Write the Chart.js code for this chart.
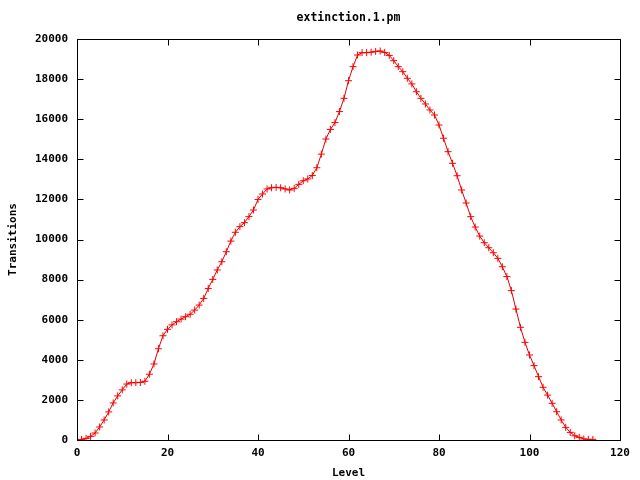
<!DOCTYPE html>
<html>
<head>
<meta charset="utf-8">
<script src="https://cdn.jsdelivr.net/npm/chart.js@4/dist/chart.umd.min.js"></script>
<style>
  html, body { margin: 0; padding: 0; background: #fff; }
  #wrap { width: 640px; height: 480px; }
</style>
</head>
<body>
<div id="wrap"><canvas id="plot" width="640" height="480"></canvas></div>
<script>
// levels on the x axis
var levels = [
  0, 1, 2, 3, 4, 5, 6, 7, 8, 9, 10, 11, 12, 13, 14, 15, 16, 17, 18, 19,
  20, 21, 22, 23, 24, 25, 26, 27, 28, 29, 30, 31, 32, 33, 34, 35, 36, 37, 38, 39,
  40, 41, 42, 43, 44, 45, 46, 47, 48, 49, 50, 51, 52, 53, 54, 55, 56, 57, 58, 59,
  60, 61, 62, 63, 64, 65, 66, 67, 68, 69, 70, 71, 72, 73, 74, 75, 76, 77, 78, 79,
  80, 81, 82, 83, 84, 85, 86, 87, 88, 89, 90, 91, 92, 93, 94, 95, 96, 97, 98, 99,
  100, 101, 102, 103, 104, 105, 106, 107, 108, 109, 110, 111, 112, 113, 114
];

// transitions per level
var transitions = [
  0, 30, 80, 180, 350, 650, 1000, 1400, 1850, 2200,
  2500, 2790, 2860, 2860, 2870, 2930, 3280, 3790, 4550, 5200,
  5520, 5740, 5900, 6030, 6150, 6270, 6480, 6730, 7060, 7560,
  8010, 8480, 8890, 9390, 9920, 10360, 10640, 10840, 11140, 11470,
  12000, 12270, 12520, 12580, 12600, 12580, 12520, 12470, 12550, 12750,
  12930, 13020, 13190, 13580, 14260, 15010, 15490, 15830, 16380, 17040,
  17920, 18620, 19200, 19320, 19320, 19340, 19380, 19400, 19330, 19180,
  18920, 18620, 18370, 18040, 17760, 17370, 17040, 16760, 16460, 16210,
  15710, 15050, 14380, 13800, 13180, 12470, 11820, 11140, 10620, 10170,
  9840, 9590, 9340, 9060, 8640, 8150, 7450, 6530, 5620, 4870,
  4240, 3710, 3160, 2630, 2240, 1830, 1410, 1000, 630, 380,
  210, 130, 50, 30, 30
];

var xTicks = [0, 20, 40, 60, 80, 100, 120];
var yTicks = [0, 2000, 4000, 6000, 8000, 10000, 12000, 14000, 16000, 18000, 20000];
var titleText = 'extinction.1.pm';

var points = levels.map(function (l, i) { return { x: l, y: transitions[i] }; });

var monoFont = "'DejaVu Sans Mono', 'Liberation Mono', monospace";
Chart.defaults.font.family = monoFont;
Chart.defaults.font.size = 11;
Chart.defaults.font.weight = 'bold';
Chart.defaults.color = '#000';

// gnuplot style frame with inward ticks on all four sides, title over the plot box
var frame = {
  id: 'frame',
  afterDraw: function (chart) {
    var ctx = chart.ctx, a = chart.chartArea;
    var sx = chart.scales.x, sy = chart.scales.y;
    var L = Math.round(a.left) + 0.5, R = Math.round(a.right) + 0.5;
    var T = Math.round(a.top) + 0.5, B = Math.round(a.bottom) + 0.5;
    ctx.save();
    ctx.strokeStyle = '#000';
    ctx.lineWidth = 1;
    ctx.beginPath();
    ctx.rect(L, T, R - L, B - T);
    xTicks.forEach(function (v) {
      var p = Math.round(sx.getPixelForValue(v)) + 0.5;
      ctx.moveTo(p, B); ctx.lineTo(p, B - 6);
      ctx.moveTo(p, T); ctx.lineTo(p, T + 6);
    });
    yTicks.forEach(function (v) {
      var p = Math.round(sy.getPixelForValue(v)) + 0.5;
      ctx.moveTo(L, p); ctx.lineTo(L + 6, p);
      ctx.moveTo(R, p); ctx.lineTo(R - 6, p);
    });
    ctx.stroke();

    ctx.fillStyle = '#000';
    ctx.font = 'bold 11.5px ' + monoFont;
    ctx.textAlign = 'center';
    ctx.textBaseline = 'middle';
    ctx.fillText(titleText, (a.left + a.right) / 2, 18);
    ctx.restore();
  }
};

new Chart(document.getElementById('plot'), {
  type: 'line',
  data: {
    datasets: [{
      label: titleText,
      data: points,
      borderColor: '#e00000',
      borderWidth: 1,
      pointStyle: 'cross',
      pointRadius: 3.5,
      pointBorderWidth: 1,
      pointBorderColor: '#ff0000',
      tension: 0,
      fill: false
    }]
  },
  options: {
    responsive: false,
    animation: false,
    layout: { padding: { left: 0, right: 20, top: 39, bottom: 0 } },
    plugins: {
      legend: { display: false },
      tooltip: { enabled: false },
      title: { display: false }
    },
    scales: {
      x: {
        type: 'linear',
        min: 0,
        max: 120,
        grid: { display: false, drawTicks: false },
        border: { display: false },
        ticks: { stepSize: 20, padding: 7, maxRotation: 0 },
        title: { display: true, text: 'Level', padding: { top: 2, bottom: 0 } },
        afterFit: function (s) { s.height = 40; }
      },
      y: {
        min: 0,
        max: 20000,
        grid: { display: false, drawTicks: false },
        border: { display: false },
        ticks: {
          stepSize: 2000,
          padding: 9,
          callback: function (v) { return String(v); }
        },
        title: { display: true, text: 'Transitions', padding: { top: 7, bottom: 0 } },
        afterFit: function (s) { s.width = 77; }
      }
    }
  },
  plugins: [frame]
});
</script>
</body>
</html>
